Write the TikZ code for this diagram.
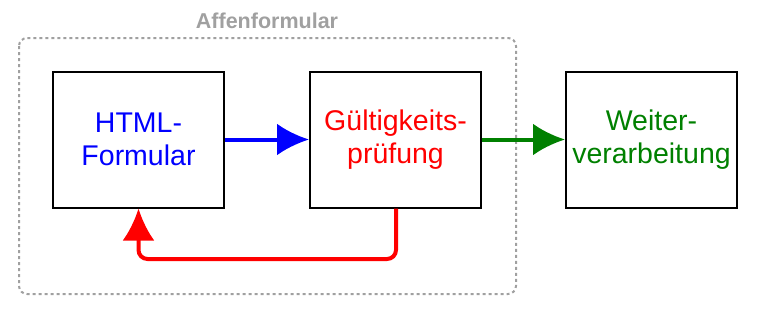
\documentclass[tikz,border=0pt]{standalone}
\usepackage{fontspec}
\setmainfont{Liberation Sans}
\usepackage{tikz}
\usetikzlibrary{arrows.meta,positioning}
\definecolor{frame}{RGB}{160,160,160}
\definecolor{weiter}{RGB}{0,128,0}

\begin{document}
\begin{tikzpicture}[x=1pt,y=-1pt,>={Latex[length=32pt,width=32pt]},
	stufe/.style={draw,line width=2pt,minimum width=171pt,minimum height=136pt,align=center,font=\fontsize{28.5}{32.5}\selectfont},
	fluss/.style={->,line width=4pt}]
	\useasboundingbox (0,0) rectangle (760,314);
	\draw[frame,line width=2pt,dash pattern=on 3pt off 3pt,rounded corners=8pt] (19,38) rectangle (516,294);
	\node[frame,font=\fontsize{21.5}{24}\selectfont\bfseries] (titel) at (267,21) {Affenformular};
	\node[stufe,text=blue] (html) at (138.5,139.5) {HTML-\\Formular};
	\node[stufe,text=red,right=84pt of html] (pruef) {Gültigkeits-\\prüfung};
	\node[stufe,text=weiter,right=83pt of pruef] (weiter) {Weiter-\\verarbeitung};
	\draw[fluss,blue] (html) -- (pruef);
	\draw[fluss,weiter] (pruef) -- (weiter);
	\draw[fluss,red,rounded corners=9pt] (pruef.south east) ++(-86pt,0) coordinate (ab) -- (ab |- 0,259) -| (html);
\end{tikzpicture}
\end{document}
